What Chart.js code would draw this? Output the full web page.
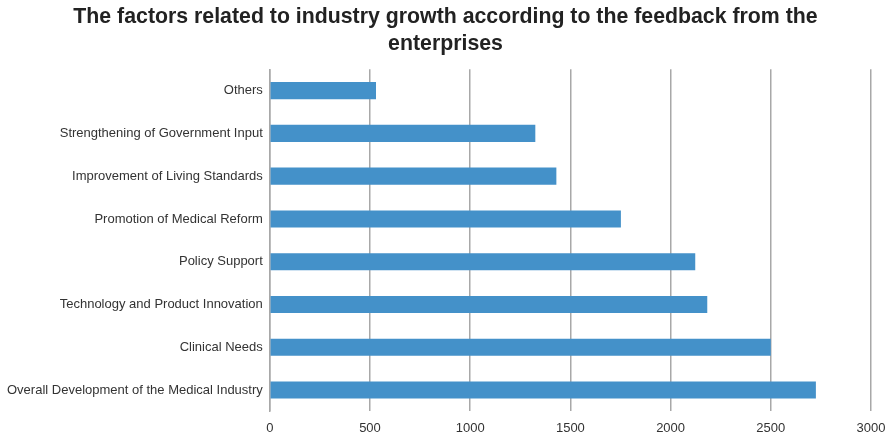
<!DOCTYPE html>
<html>
<head>
<meta charset="utf-8">
<script src="https://cdn.jsdelivr.net/npm/chart.js@4"></script>
<style>
  html, body { margin: 0; padding: 0; background: #fff; }
  #wrap { width: 891px; height: 436px; }
</style>
</head>
<body>
<div id="wrap"><canvas id="factors"></canvas></div>
<script>
const factorLabels = [
  'Others',
  'Strengthening of Government Input',
  'Improvement of Living Standards',
  'Promotion of Medical Reform',
  'Policy Support',
  'Technology and Product Innovation',
  'Clinical Needs',
  'Overall Development of the Medical Industry'
];

const factorCounts = [530, 1325, 1430, 1752, 2123, 2183, 2500, 2725];

const xTicks = [0, 500, 1000, 1500, 2000, 2500, 3000];

const factors = document.getElementById('factors');

new Chart(factors, {
  type: 'bar',
  data: {
    labels: factorLabels,
    datasets: [{
      label: 'Enterprises',
      data: factorCounts,
      backgroundColor: '#4491c9',
      borderWidth: 0,
      categoryPercentage: 1,
      barPercentage: 0.4
    }]
  },
  options: {
    indexAxis: 'y',
    responsive: true,
    maintainAspectRatio: false,
    animation: false,
    layout: {
      padding: { left: 0, right: 0, top: 0, bottom: 0 }
    },
    plugins: {
      legend: { display: false },
      tooltip: { enabled: false },
      title: {
        display: true,
        text: [
          'The factors related to industry growth according to the feedback from the',
          'enterprises'
        ],
        color: '#222',
        font: { family: 'Liberation Sans', size: 21.3, weight: 'bold', lineHeight: 1.25 },
        padding: { top: 4, bottom: 12 }
      }
    },
    scales: {
      x: {
        min: 0,
        max: 3000,
        afterBuildTicks: function (axis) {
          axis.ticks = xTicks.map(v => ({ value: v }));
        },
        // keep some room right of the 3000 line
        afterFit: function (axis) {
          axis.paddingRight = 20;
        },
        grid: {
          color: '#a8a8a8',
          lineWidth: 1.5,
          drawTicks: true,
          tickLength: 9,
          tickColor: 'rgba(0,0,0,0)'
        },
        border: { display: false },
        ticks: {
          color: '#333',
          font: { family: 'Liberation Sans', size: 13 },
          padding: 0,
          maxRotation: 0,
          callback: function (value) {
            return String(value);
          }
        }
      },
      y: {
        grid: { display: false, drawTicks: false },
        border: { display: true, color: '#a8a8a8', width: 1.5 },
        ticks: {
          color: '#333',
          font: { family: 'Liberation Sans', size: 13 },
          padding: 7
        }
      }
    }
  }
});
</script>
</body>
</html>
